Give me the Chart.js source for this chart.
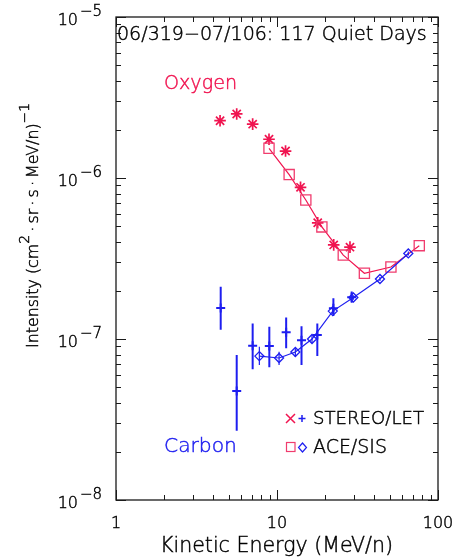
<!DOCTYPE html>
<html>
<head>
<meta charset="utf-8">
<script src="https://cdn.jsdelivr.net/npm/chart.js@4/dist/chart.umd.min.js"></script>
<style>
  html,body{margin:0;padding:0;background:#fff;}
  #wrap{width:459px;height:560px;position:relative;}
</style>
</head>
<body>
<div id="wrap"><canvas id="c" width="459" height="560"></canvas></div>
<script>
// ---- Data ----
const oxyStereoE = [4.43, 5.62, 7.06, 8.92, 11.3, 14.0, 17.9, 22.5, 28.4];
const oxyStereoI = [2.27e-6, 2.50e-6, 2.16e-6, 1.74e-6, 1.47e-6, 8.75e-7, 5.27e-7, 3.84e-7, 3.72e-7];

const oxyAceE = [8.92, 11.9, 15.1, 19.0, 25.8, 34.9, 51.0, 76.5];
const oxyAceI = [1.53e-6, 1.05e-6, 7.30e-7, 4.97e-7, 3.32e-7, 2.56e-7, 2.80e-7, 3.80e-7];

const carStereoE  = [4.47, 5.62, 7.06, 8.96, 11.4, 14.2, 17.8, 22.4, 29.1];
const carStereoI  = [1.56e-7, 4.75e-8, 9.08e-8, 9.06e-8, 1.10e-7, 9.82e-8, 1.06e-7, 1.55e-7, 1.82e-7];
const carStereoLo = [1.14e-7, 2.69e-8, 6.49e-8, 6.67e-8, 8.75e-8, 6.90e-8, 7.83e-8, 1.39e-7, 1.68e-7];
const carStereoHi = [2.11e-7, 7.96e-8, 1.25e-7, 1.19e-7, 1.36e-7, 1.20e-7, 1.25e-7, 1.79e-7, 1.97e-7];

const carAceE  = [7.77, 10.3, 13.0, 16.5, 22.2, 29.8, 43.6, 65.4];
const carAceI  = [7.83e-8, 7.62e-8, 8.30e-8, 1.00e-7, 1.49e-7, 1.81e-7, 2.36e-7, 3.40e-7];
const carAceLo = [6.90e-8, 6.90e-8, 7.76e-8, 9.40e-8, 1.43e-7, 1.75e-7, 2.29e-7, 3.30e-7];
const carAceHi = [8.95e-8, 8.34e-8, 8.75e-8, 1.06e-7, 1.55e-7, 1.87e-7, 2.43e-7, 3.50e-7];

const xTickValues = [1, 10, 100];
const xTickLabels = ['1', '10', '100'];
const yTickExps = [-8, -7, -6, -5];

const titleText  = '06/319\u221207/106: 117 Quiet Days';
const xAxisTitle = 'Kinetic Energy (MeV/n)';
const oxygenLabel = 'Oxygen';
const carbonLabel = 'Carbon';
const legendStereo = 'STEREO/LET';
const legendAce = 'ACE/SIS';

// ---- Styles ----
const RED = 'rgb(240,20,80)';
const RED_LIGHT = 'rgb(240,60,110)';
const BLUE = 'rgb(30,30,240)';
const INK = '#000000';
const FAM = '"DejaVu Sans", "Liberation Sans", sans-serif';
const W = '300 ';

function pts(xs, ys){ return xs.map((v,i)=>({x:v, y:ys[i]})); }
function bars(xs, lo, hi){
  const out = [];
  xs.forEach((v,i)=>{ out.push({x:v,y:lo[i]}); out.push({x:v,y:hi[i]}); out.push({x:v,y:null}); });
  return out;
}
function font(size){ return W + size.toFixed(2) + 'px ' + FAM; }

function txt(ctx, str, x, y, color){
  ctx.fillStyle = color;
  ctx.strokeStyle = color;
  ctx.lineWidth = 0.45;
  ctx.fillText(str, x, y);
  ctx.strokeText(str, x, y);
}

function fitText(ctx, str, x, y, targetW, baseSize, color, align){
  ctx.font = font(baseSize);
  const w = ctx.measureText(str).width;
  const size = baseSize * targetW / w;
  ctx.font = font(size);
  ctx.textAlign = align || 'left';
  ctx.textBaseline = 'alphabetic';
  txt(ctx, str, x, y, color);
}

const deco = {
  id: 'deco',
  afterDraw(chart){
    const {ctx, chartArea: a, scales: {x, y}} = chart;
    ctx.save();
    // frame
    ctx.strokeStyle = '#1a1a1a';
    ctx.lineWidth = 1.3;
    ctx.strokeRect(a.left, a.top, a.right - a.left, a.bottom - a.top);
    // x ticks (bottom + top), inward
    ctx.lineWidth = 1;
    ctx.beginPath();
    for (let d = 0; d <= 2; d++){
      for (let m = 1; m <= 9; m++){
        const v = m * Math.pow(10, d);
        if (v > 100) break;
        const px = Math.round(x.getPixelForValue(v)) + 0.5;
        const len = (m === 1) ? 10 : 5;
        ctx.moveTo(px, a.bottom); ctx.lineTo(px, a.bottom - len);
        ctx.moveTo(px, a.top);    ctx.lineTo(px, a.top + len);
      }
    }
    // y ticks (left + right), inward
    for (let e = -8; e <= -5; e++){
      for (let m = 1; m <= 9; m++){
        const v = m * Math.pow(10, e);
        if (v > 1e-5 * 1.0001) break;
        const py = Math.round(y.getPixelForValue(v)) + 0.5;
        const len = (m === 1) ? 10 : 5;
        ctx.moveTo(a.left, py);  ctx.lineTo(a.left + len, py);
        ctx.moveTo(a.right, py); ctx.lineTo(a.right - len, py);
      }
    }
    ctx.stroke();

    // x tick labels
    ctx.font = font(16);
    ctx.textAlign = 'center';
    ctx.textBaseline = 'alphabetic';
    xTickValues.forEach((v,i)=>{
      txt(ctx, xTickLabels[i], x.getPixelForValue(v), a.bottom + 28, INK);
    });

    // y tick labels 10^e
    yTickExps.forEach(e=>{
      const py = y.getPixelForValue(Math.pow(10, e));
      ctx.font = font(16);
      ctx.textAlign = 'right';
      txt(ctx, '10', 78, py + 8, INK);
      ctx.font = font(15);
      ctx.textAlign = 'left';
      txt(ctx, '\u2212' + Math.abs(e), 80, py - 1, INK);
    });

    // x axis title
    fitText(ctx, xAxisTitle, 160, 552, 233, 16, INK, 'left');

    // y axis title (rotated, with superscripts)
    ctx.save();
    ctx.translate(38, 348);
    ctx.rotate(-Math.PI/2);
    const parts = [
      {t:'Intensity (cm', sup:false},
      {t:'2', sup:true},
      {t:'\u2009\u00b7\u2009sr\u2009\u00b7\u2009s\u2009\u00b7\u2009MeV/n)', sup:false},
      {t:'\u22121', sup:true}
    ];
    const base = 16, supSize = 14;
    let total = 0;
    parts.forEach(p=>{ ctx.font = font(p.sup?supSize:base); total += ctx.measureText(p.t).width; });
    const k = 245 / total;
    let cx = 0;
    ctx.textAlign = 'left';
    parts.forEach(p=>{
      ctx.font = font((p.sup?supSize:base)*k);
      txt(ctx, p.t, cx, p.sup ? -9 : 0, INK);
      cx += ctx.measureText(p.t).width;
    });
    ctx.restore();

    // title inside plot
    fitText(ctx, titleText, 117, 40, 310, 16, INK, 'left');
    // species labels
    fitText(ctx, oxygenLabel, 164, 89, 73, 17, RED, 'left');
    fitText(ctx, carbonLabel, 164, 452, 73, 17, BLUE, 'left');

    // legend symbols
    ctx.lineWidth = 1.5;
    ctx.strokeStyle = RED;
    ctx.beginPath();
    ctx.moveTo(286, 414); ctx.lineTo(295, 423);
    ctx.moveTo(295, 414); ctx.lineTo(286, 423);
    ctx.stroke();
    ctx.strokeStyle = BLUE;
    ctx.beginPath();
    ctx.moveTo(298.5, 418.5); ctx.lineTo(305.5, 418.5);
    ctx.moveTo(302, 415); ctx.lineTo(302, 422);
    ctx.stroke();
    ctx.strokeStyle = RED_LIGHT;
    ctx.lineWidth = 1.2;
    ctx.strokeRect(286.5, 442.5, 8.5, 9);
    ctx.strokeStyle = BLUE;
    ctx.beginPath();
    ctx.moveTo(302.5, 443); ctx.lineTo(306.5, 447.5); ctx.lineTo(302.5, 452); ctx.lineTo(298.5, 447.5); ctx.closePath();
    ctx.stroke();
    fitText(ctx, legendStereo, 313, 424, 111, 15, INK, 'left');
    fitText(ctx, legendAce, 313, 453, 74, 15, INK, 'left');

    ctx.restore();
  }
};

new Chart(document.getElementById('c'), {
  type: 'scatter',
  data: {
    datasets: [
      { // Carbon STEREO error bars
        data: bars(carStereoE, carStereoLo, carStereoHi),
        showLine: true, spanGaps: false, borderColor: BLUE, borderWidth: 2,
        pointRadius: 0, pointHoverRadius: 0
      },
      { // Carbon ACE error bars
        data: bars(carAceE, carAceLo, carAceHi),
        showLine: true, spanGaps: false, borderColor: BLUE, borderWidth: 1.2,
        pointRadius: 0, pointHoverRadius: 0
      },
      { // Carbon ACE
        data: pts(carAceE, carAceI),
        showLine: true, borderColor: BLUE, borderWidth: 1.2,
        pointStyle: 'rectRot', pointRadius: 4.5, pointBorderWidth: 1.3,
        pointBackgroundColor: 'rgba(0,0,0,0)', pointBorderColor: BLUE
      },
      { // Carbon STEREO
        data: pts(carStereoE, carStereoI),
        showLine: false, borderColor: BLUE,
        pointStyle: 'cross', pointRadius: 4.5, pointBorderWidth: 2,
        pointBorderColor: BLUE
      },
      { // Oxygen ACE
        data: pts(oxyAceE, oxyAceI),
        showLine: true, borderColor: RED, borderWidth: 1.2,
        pointStyle: 'rect', pointRadius: 7.2, pointBorderWidth: 1.3,
        pointBackgroundColor: 'rgba(0,0,0,0)', pointBorderColor: RED_LIGHT
      },
      { // Oxygen STEREO
        data: pts(oxyStereoE, oxyStereoI),
        showLine: false, borderColor: RED,
        pointStyle: 'star', pointRadius: 5.8, pointBorderWidth: 1.7,
        pointBorderColor: RED
      }
    ]
  },
  options: {
    responsive: false,
    animation: false,
    events: [],
    layout: { padding: { left: 116, right: 21, top: 17, bottom: 60 } },
    plugins: { legend: { display: false }, tooltip: { enabled: false } },
    scales: {
      x: { type: 'logarithmic', min: 1, max: 100, display: false },
      y: { type: 'logarithmic', min: 1e-8, max: 1e-5, display: false }
    }
  },
  plugins: [deco]
});
</script>
</body>
</html>
